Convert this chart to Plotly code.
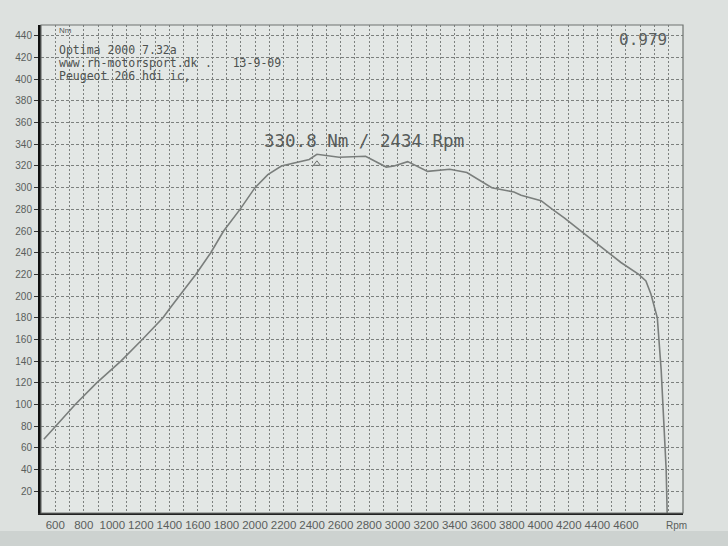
import plotly.graph_objects as go

# Torque curve
rpm = [520, 600, 740, 890, 1060, 1210, 1355, 1405, 1585, 1690, 1780, 1895, 2000,
       2090, 2185, 2380, 2434, 2590, 2775, 2920, 2975, 3070, 3210, 3365, 3485,
       3660, 3815, 3865, 4005, 4085, 4170, 4285, 4480, 4565, 4690, 4740, 4775,
       4820, 4847, 4865, 4882, 4889]
torque = [68, 80, 100, 120, 140, 160, 180, 189, 220, 240, 260, 280, 300,
          312, 320, 326, 330.8, 328, 329, 319, 320, 324, 315, 317, 314,
          300, 296, 293, 288, 280, 272, 260, 240, 231, 220, 214, 202,
          180, 132, 90, 40, 0]

peak_rpm = [2434]
peak_marker_nm = [322]

x_ticks = list(range(600, 4601, 200))
y_ticks = list(range(20, 441, 20))

header_lines = ["Optima 2000 7.32a", "www.rh-motorsport.dk", "Peugeot 206 hdi ic,"]
date_text = ".   13-9-09"
corr_text = "0.979"
peak_text = "330.8 Nm / 2434 Rpm"

# plot area in pixels
L, R, T, B = 41, 683, 25, 513
W, H = 728, 546
pw, ph = R - L, B - T

def px(xp):
    return (xp - L) / pw

def py(yp):
    return (B - yp) / ph

fig = go.Figure()
fig.add_trace(go.Scatter(x=rpm, y=torque, mode="lines",
                         line=dict(color="#7a7e7c", width=1.6),
                         hoverinfo="skip", showlegend=False))
fig.add_trace(go.Scatter(x=peak_rpm, y=peak_marker_nm, mode="markers",
                         marker=dict(symbol="triangle-up-open", size=6,
                                     color="#6a6e6c", line=dict(width=1)),
                         showlegend=False, hoverinfo="skip"))

grid_col = "#7c807e"
fig.update_xaxes(range=[500, 5000], tickvals=x_ticks,
                 ticktext=[str(v) for v in x_ticks],
                 showgrid=False, zeroline=False,
                 showline=True, linecolor="#222", linewidth=2,
                 ticks="", tickfont=dict(family="Liberation Sans, Arial", size=11.5, color="#5a5e5c"),
                 minor=dict(tick0=500, dtick=100, showgrid=True, gridcolor=grid_col,
                            griddash="2px,2px", gridwidth=1, ticks=""))
fig.update_yaxes(range=[0, 450], tickvals=y_ticks,
                 showgrid=True, gridcolor=grid_col, griddash="3px,2px", gridwidth=1,
                 zeroline=False, showline=True, linecolor="#111", linewidth=3,
                 ticks="outside", ticklen=4, tickcolor="#333", tickwidth=1,
                 tickfont=dict(family="Liberation Sans, Arial", size=10, color="#5a5e5c"))

shapes = [
    dict(type="rect", xref="paper", yref="paper", x0=0, x1=1, y0=0, y1=1,
         line=dict(color="#6e7270", width=1.2), fillcolor="rgba(0,0,0,0)", layer="above"),
    dict(type="rect", xref="paper", yref="paper", x0=px(0), x1=px(W), y0=py(531), y1=py(W),
         line=dict(width=0), fillcolor="#cdd2d0", layer="below"),
]

mono = "DejaVu Sans Mono"
ann = []
for i, t in enumerate(header_lines):
    ann.append(dict(x=px(57), y=py(50 + i * 13), xref="paper", yref="paper", text=t,
                    showarrow=False, xanchor="left", yanchor="middle",
                    font=dict(family=mono, size=11.5, color="#4e5250")))
ann.append(dict(x=px(203), y=py(63), xref="paper", yref="paper", text=date_text,
                showarrow=False, xanchor="left", yanchor="middle",
                font=dict(family=mono, size=11.5, color="#4e5250")))
ann.append(dict(x=px(57), y=py(31), xref="paper", yref="paper", text="Nm",
                showarrow=False, xanchor="left", yanchor="middle",
                font=dict(family="Liberation Sans, Arial", size=8, color="#555957")))
ann.append(dict(x=px(669), y=py(40), xref="paper", yref="paper", text=corr_text,
                showarrow=False, xanchor="right", yanchor="middle",
                font=dict(family=mono, size=16, color="#5a5e5c")))
ann.append(dict(x=px(364), y=py(141), xref="paper", yref="paper", text=peak_text,
                showarrow=False, xanchor="center", yanchor="middle",
                font=dict(family=mono, size=17.5, color="#585c5a")))
ann.append(dict(x=px(676), y=py(525), xref="paper", yref="paper", text="Rpm",
                showarrow=False, xanchor="center", yanchor="middle",
                font=dict(family="Liberation Sans, Arial", size=10, color="#5a5e5c")))

fig.update_layout(width=W, height=H,
                  margin=dict(l=L, r=W - R, t=T, b=H - B, pad=0),
                  paper_bgcolor="#dde1df", plot_bgcolor="#e3e7e5",
                  shapes=shapes, annotations=ann, showlegend=False)

fig.write_html("out.html", config={"displayModeBar": False},
               post_script="document.body.style.margin='0';document.body.style.background='#dde1df';document.body.style.overflow='hidden';")
